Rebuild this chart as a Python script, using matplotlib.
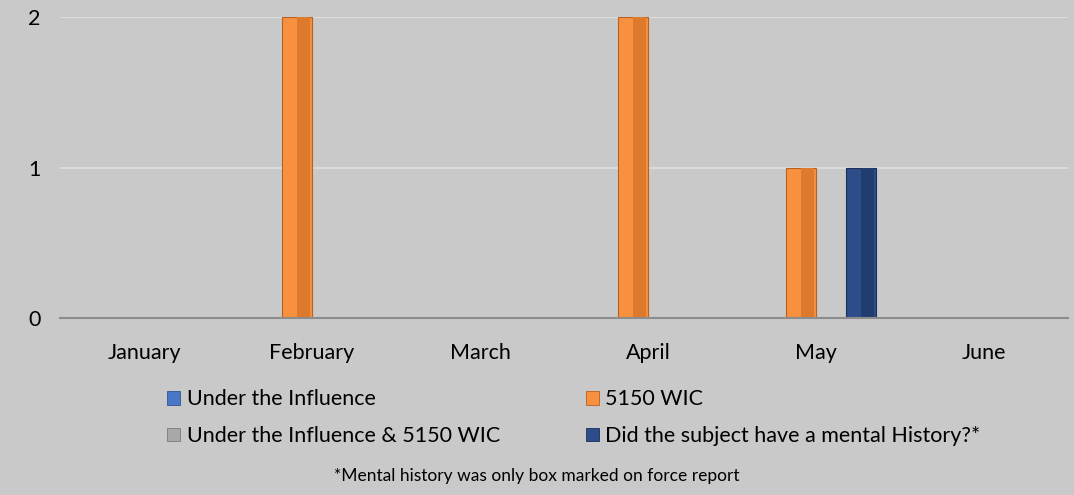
import numpy as np
import matplotlib
matplotlib.use("Agg")
import matplotlib.pyplot as plt
from matplotlib.patches import Patch

plt.rcParams["font.family"] = ["Lato", "DejaVu Sans"]

# ---------------------------------------------------------------------------
# data
# ---------------------------------------------------------------------------
months = ["January", "February", "March", "April", "May", "June"]
series_names = [
    "Under the Influence",
    "5150 WIC",
    "Under the Influence & 5150 WIC",
    "Did the subject have a mental History?*",
]
under_influence = [0, 0, 0, 0, 0, 0]
wic_5150 = [0, 2, 0, 2, 1, 0]
influence_and_5150 = [0, 0, 0, 0, 0, 0]
mental_history = [0, 0, 0, 0, 1, 0]
yticks = [0, 1, 2]
footnote = "*Mental history was only box marked on force report"

series_values = [under_influence, wic_5150, influence_and_5150, mental_history]
face_colors = ["#4a76c6", "#f7913f", "#a8a8a8", "#2d4d8a"]
shade_colors = ["#3a62aa", "#dd7a2e", "#8e8e8e", "#213d70"]
edge_colors = ["#2f5597", "#b8601f", "#7a7a7a", "#1a305a"]

bg = "#c9c9c9"

fig = plt.figure(figsize=(10.74, 4.95), dpi=100, facecolor=bg)
ax = fig.add_axes([60 / 1074, 1 - 318 / 495, 1008 / 1074, 301 / 495])
ax.set_facecolor(bg)

x = np.arange(len(months))
bar_w = 30 / 168
for i, vals in enumerate(series_values):
    offset = (i - 1.5) * bar_w
    ax.bar(x + offset, vals, bar_w, color=face_colors[i],
           edgecolor=edge_colors[i], linewidth=0.8, zorder=3)
    # darker right half to mimic the bevel look
    ax.bar(x + offset + bar_w * 0.22, vals, bar_w * 0.42,
           color=shade_colors[i], linewidth=0, zorder=4)

ax.set_xlim(-0.5, len(months) - 0.5)
ax.set_ylim(0, 2)
ax.set_yticks(yticks)
ax.set_xticks(x)
ax.set_xticklabels(months, fontsize=15.5)
ax.tick_params(axis="y", labelsize=15.5, length=0, pad=14)
ax.tick_params(axis="x", length=0, pad=18)
ax.yaxis.grid(True, color="#dcdcdc", linewidth=1.5, zorder=0)
ax.set_axisbelow(True)
for side in ["top", "right", "left"]:
    ax.spines[side].set_visible(False)
ax.spines["bottom"].set_color("#8c8c8c")
ax.spines["bottom"].set_linewidth(1.5)
ax.spines["bottom"].set_zorder(5)

order = [0, 2, 1, 3]
handles = [Patch(facecolor=face_colors[k], edgecolor=edge_colors[k], linewidth=0.6)
           for k in order]
labels = [series_names[k] for k in order]
fig.legend(handles, labels, ncol=2, loc="upper left",
           bbox_to_anchor=(148 / 1074, 1 - 370 / 495), frameon=False,
           fontsize=15.5, handlelength=0.6, handleheight=0.6,
           handletextpad=0.3, columnspacing=4.0, labelspacing=0.78)

fig.text(537 / 1074, 1 - 476 / 495, footnote, ha="center", va="center",
         fontsize=12.5)

fig.savefig("out.png", dpi=100, facecolor=bg)
